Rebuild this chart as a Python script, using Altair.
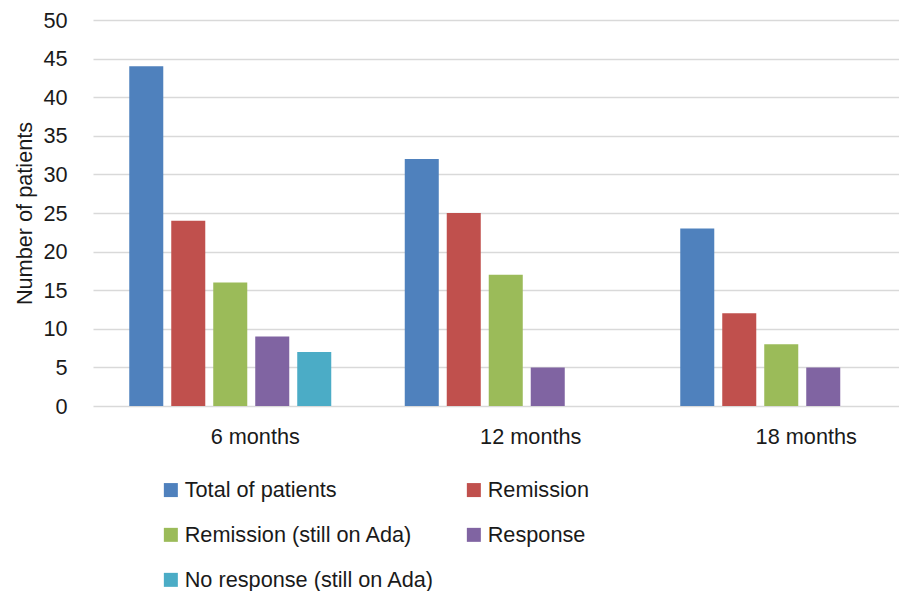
import altair as alt
import pandas as pd

periods = ["6 months", "12 months", "18 months"]
series = ["Total of patients", "Remission", "Remission (still on Ada)",
          "Response", "No response (still on Ada)"]
total = [44, 32, 23]
remission = [24, 25, 12]
remission_ada = [16, 17, 8]
response = [9, 5, 5]
no_response_ada = [7, None, None]
colors = ["#4F81BD", "#C0504D", "#9BBB59", "#8064A2", "#4BACC6"]
y_ticks = [0, 5, 10, 15, 20, 25, 30, 35, 40, 45, 50]

rows = []
for s, vals in zip(series, [total, remission, remission_ada, response, no_response_ada]):
    for p, v in zip(periods, vals):
        if v is not None:
            rows.append({"period": p, "series": s, "value": v})
df = pd.DataFrame(rows)

FONT = "Liberation Sans"
TXT = "#1a1a1a"
FS = 21.7

chart = alt.Chart(df).mark_bar().encode(
    x=alt.X("period:N", sort=periods,
            scale=alt.Scale(paddingInner=0.2668, paddingOuter=0.0962, align=0.684),
            axis=alt.Axis(title=None, labelAngle=0, labelPadding=20, labelOffset=25,
                          ticks=False, domain=False, grid=False)),
    xOffset=alt.XOffset("series:N", sort=series,
                        scale=alt.Scale(paddingInner=0.19, paddingOuter=0)),
    y=alt.Y("value:Q", scale=alt.Scale(domain=[0, 50], nice=False),
            axis=alt.Axis(values=y_ticks, title="Number of patients", ticks=False,
                          domain=False, labelPadding=26, titlePadding=6,
                          gridColor="#d9d9d9", gridWidth=1.5)),
    color=alt.Color("series:N", sort=series,
                    scale=alt.Scale(domain=series, range=colors),
                    legend=alt.Legend(orient="none", direction="horizontal",
                                      legendX=67, legendY=459,
                                      columns=2, columnPadding=28, rowPadding=22,
                                      symbolType="square", symbolSize=196,
                                      symbolStrokeWidth=0, labelOffset=3,
                                      title=None, padding=0)),
).properties(
    width=806, height=386,
    autosize=alt.AutoSizeParams(type="none"),
    padding={"left": 85, "top": 12, "right": 0, "bottom": 185},
).configure_view(stroke=None).configure_axis(
    labelFont=FONT, titleFont=FONT, labelFontSize=FS, titleFontSize=FS,
    labelColor=TXT, titleColor=TXT, titleFontWeight="normal",
).configure_legend(
    labelFont=FONT, labelFontSize=FS, labelColor=TXT, labelLimit=400,
)

chart.save("out.html", embed_options={"renderer": "svg", "actions": False})
